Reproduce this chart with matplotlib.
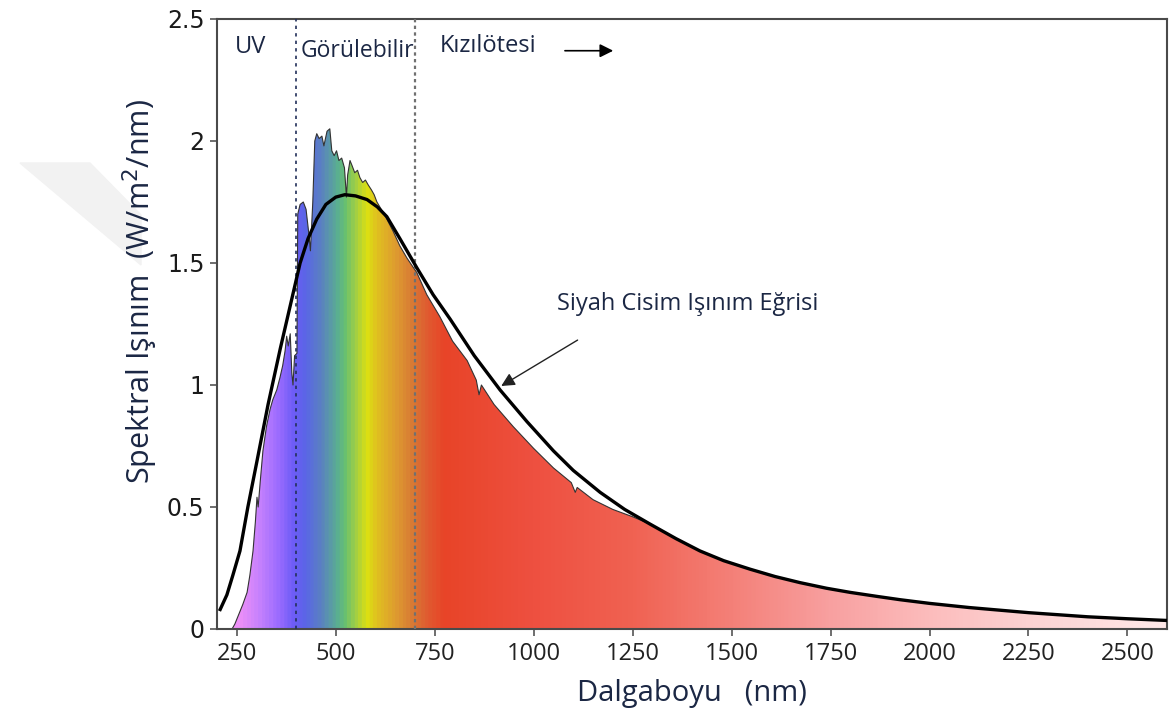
import numpy as np
import matplotlib
matplotlib.use("Agg")
import matplotlib.pyplot as plt
from matplotlib.colors import LinearSegmentedColormap, Normalize
from matplotlib.patches import Polygon

plt.rcParams["font.family"] = ["Open Sans", "DejaVu Sans"]

# measured solar spectrum (edge of the coloured area), nm / W m-2 nm-1
spec_wl = [238, 245, 255, 265, 276, 283, 291, 297, 301, 304, 309, 316, 325, 334, 341,
           351, 359, 366, 372, 376, 380, 385, 389, 392, 396, 402, 404, 410, 418, 425,
           432, 436, 442, 447, 452, 458, 465, 470, 478, 485, 490, 496, 502, 508, 515,
           522, 527, 530, 536, 541, 548, 555, 561, 568, 575, 582, 590, 597, 604, 615,
           629, 645, 662, 680, 705, 730, 763, 795, 832, 855, 862, 868, 900, 948, 1000,
           1050, 1095, 1105, 1110, 1150, 1200, 1250, 1294, 1360, 1420, 1480, 1547, 1610,
           1673, 1740, 1800, 1870, 1926, 2000, 2100, 2250, 2400, 2500, 2600]
spec_val = [0.00, 0.02, 0.06, 0.10, 0.15, 0.22, 0.32, 0.44, 0.54, 0.50, 0.60, 0.73, 0.83, 0.90, 0.94,
            0.98, 1.03, 1.08, 1.14, 1.20, 1.16, 1.21, 1.05, 1.00, 1.12, 1.13, 1.70, 1.74, 1.75, 1.72,
            1.62, 1.55, 1.75, 2.00, 2.03, 2.01, 2.02, 1.98, 2.04, 2.05, 1.96, 1.94, 1.96, 1.92, 1.93,
            1.89, 1.77, 1.86, 1.92, 1.90, 1.87, 1.88, 1.85, 1.83, 1.84, 1.82, 1.80, 1.78, 1.75, 1.72,
            1.68, 1.63, 1.57, 1.52, 1.46, 1.37, 1.28, 1.18, 1.10, 1.02, 0.96, 1.00, 0.92, 0.83, 0.74,
            0.66, 0.60, 0.56, 0.58, 0.53, 0.49, 0.46, 0.43, 0.37, 0.32, 0.28, 0.245, 0.215,
            0.19, 0.167, 0.15, 0.133, 0.12, 0.105, 0.088, 0.067, 0.05, 0.042, 0.035]

# black body curve
bb_wl = [208, 225, 240, 258, 278, 300, 329, 360, 390, 410, 430, 452, 475, 500, 523, 550,
         579, 605, 629, 662, 705, 746, 789, 850, 915, 983, 1050, 1100, 1168, 1230, 1294,
         1360, 1420, 1480, 1547, 1610, 1673, 1740, 1800, 1870, 1926, 2000, 2100, 2250,
         2400, 2500, 2600]
bb_val = [0.08, 0.14, 0.22, 0.32, 0.50, 0.68, 0.92, 1.15, 1.36, 1.50, 1.60, 1.68, 1.74, 1.77, 1.78, 1.775,
          1.76, 1.73, 1.69, 1.60, 1.48, 1.37, 1.27, 1.12, 0.98, 0.85, 0.73, 0.65, 0.56, 0.49, 0.43,
          0.37, 0.32, 0.28, 0.245, 0.215, 0.19, 0.167, 0.15, 0.133, 0.12, 0.105, 0.088, 0.067,
          0.05, 0.042, 0.035]

# colour stops of the rainbow fill (wavelength -> colour)
grad_wl = [200, 250, 300, 350, 390, 420, 460, 500, 520, 550, 575, 600, 650, 690, 730,
           770, 1000, 1250, 1500, 1750, 2000, 2250, 2600]
grad_colors = ["#f59cf8", "#ee90f8", "#c882fd", "#9c6cff", "#6c5cf6", "#5a66e6", "#5a82c0",
               "#5aae92", "#68c070", "#a8d040", "#dce012", "#e0c020", "#de9a30", "#d87a35",
               "#e05a30", "#e84428", "#ee5040", "#f06252", "#f48078", "#f8a0a0", "#fcbcbc",
               "#fdd2d2", "#ffe8e8"]

xticks = [250, 500, 750, 1000, 1250, 1500, 1750, 2000, 2250, 2500]
yticks = [0, 0.5, 1, 1.5, 2, 2.5]
ytick_labels = ["0", "0.5", "1", "1.5", "2", "2.5"]

text_col = "#1b2744"

fig = plt.figure(figsize=(11.73, 7.16), dpi=100)

# faint grey chevron in the left margin
fig.patches.append(Polygon([(20 / 1173, 1 - 163 / 716), (90 / 1173, 1 - 163 / 716),
                            (141 / 1173, 1 - 215 / 716), (141 / 1173, 1 - 265 / 716)],
                           closed=True, transform=fig.transFigure, color="#f2f2f2", zorder=-1))

ax = fig.add_axes([217 / 1173, 87 / 716, 950 / 1173, 610 / 716])
ax.set_xlim(200, 2600)
ax.set_ylim(0, 2.5)

pos = [(w - grad_wl[0]) / (grad_wl[-1] - grad_wl[0]) for w in grad_wl]
cmap = LinearSegmentedColormap.from_list("spec", list(zip(pos, grad_colors)))
xs = np.linspace(200, 2600, 1200)
im = ax.imshow(xs[np.newaxis, :], extent=[200, 2600, 0, 2.5], aspect="auto", cmap=cmap,
               norm=Normalize(200, 2600), origin="lower", zorder=1)
verts = [(spec_wl[0], 0)] + list(zip(spec_wl, spec_val)) + [(spec_wl[-1], 0)]
clip = Polygon(verts, closed=True, transform=ax.transData, facecolor="none", edgecolor="none")
ax.add_patch(clip)
im.set_clip_path(clip)

ax.plot(spec_wl, spec_val, color="#333333", lw=0.8, zorder=2)
ax.plot(bb_wl, bb_val, color="black", lw=2.4, zorder=4, solid_joinstyle="round")

ax.axvline(400, color="#23305a", lw=1.2, ls=(0, (2, 2.5)), zorder=3)
ax.axvline(700, color="#707070", lw=1.6, ls=(0, (1.5, 1.5)), zorder=3)

ax.text(245, 2.385, "UV", fontsize=17, color=text_col, va="center", ha="left")
ax.text(410, 2.37, "Görülebilir", fontsize=16.5, color=text_col, va="center", ha="left")
ax.text(763, 2.39, "Kızılötesi", fontsize=17, color=text_col, va="center", ha="left")
ax.annotate("", xy=(1208, 2.37), xytext=(1072, 2.37),
            arrowprops=dict(arrowstyle="-|>", color="black", lw=1.2, mutation_scale=20))

ax.text(1059, 1.33, "Siyah Cisim Işınım Eğrisi", fontsize=17, color=text_col,
        va="center", ha="left")
ax.annotate("", xy=(912, 0.99), xytext=(1117, 1.19),
            arrowprops=dict(arrowstyle="-|>", color="#222222", lw=1.0, mutation_scale=20))

ax.set_xticks(xticks)
ax.set_xticklabels([str(t) for t in xticks], fontsize=17, color="#222222")
ax.set_yticks(yticks)
ax.set_yticklabels(ytick_labels, fontsize=17, color="#1a1a1a", family="DejaVu Sans")
ax.tick_params(direction="out", length=5, width=1.2, color="#555555", pad=4)
for s in ax.spines.values():
    s.set_color("#4a4a4a")
    s.set_linewidth(1.5)

ax.set_xlabel("Dalgaboyu   (nm)", fontsize=21, color=text_col, labelpad=10)
ax.set_ylabel("Spektral Işınım  (W/m$^2$/nm)", fontsize=22, color=text_col)
ax.yaxis.set_label_coords(-0.06, 0.554)

fig.savefig("out.png", dpi=100)
